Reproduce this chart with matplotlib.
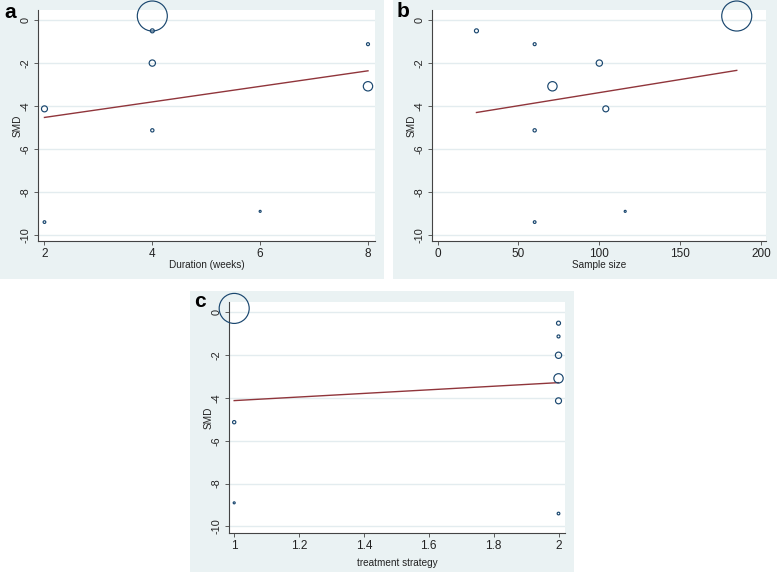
import matplotlib
matplotlib.use("Agg")
import matplotlib.pyplot as plt
from matplotlib.patches import Rectangle
import numpy as np

plt.rcParams['font.family'] = ['Liberation Sans', 'DejaVu Sans']

# ---- data ----
smd = [0.19, -0.50, -1.12, -2.00, -3.08, -4.13, -5.13, -9.40, -8.90]
duration_weeks = [4, 4, 8, 4, 8, 2, 4, 2, 6]
sample_size = [185, 24, 60, 100, 71, 104, 60, 60, 116]
treatment_strategy = [1, 2, 2, 2, 2, 2, 1, 2, 1]
study_weight = [100, 1.8, 1.0, 4.4, 9.7, 4.0, 1.2, 0.8, 0.45]

# fitted meta-regression values at the ends of each x range
fit_duration = [-4.53, -2.36]
fit_sample = [-4.30, -2.34]
fit_strategy = [-4.12, -3.28]

xticks_duration = [2, 4, 6, 8]
xticks_sample = [0, 50, 100, 150, 200]
xticks_strategy = [1, 1.2, 1.4, 1.6, 1.8, 2]
yticks_smd = [0, -2, -4, -6, -8, -10]

W, H = 777, 572
BG = '#eaf2f3'
NAVY = '#1a476f'
MAROON = '#90353b'
GRID = '#e3ecef'
SPINE = '#444444'

fig = plt.figure(figsize=(W / 100, H / 100), dpi=100)
fig.patch.set_facecolor('white')


def bg(l, t, r, b):
    fig.add_artist(Rectangle((l / W, 1 - b / H), (r - l) / W, (b - t) / H,
                             transform=fig.transFigure, facecolor=BG,
                             edgecolor='none', zorder=0))


def make_ax(l, t, r, b):
    return fig.add_axes([l / W, 1 - b / H, (r - l) / W, (b - t) / H])


def style(ax, x, xt, fit, xlim, ylim, xlabel, xlabelpad):
    ax.set_facecolor('white')
    for s in ['top', 'right']:
        ax.spines[s].set_visible(False)
    for s in ['left', 'bottom']:
        ax.spines[s].set_color(SPINE)
        ax.spines[s].set_linewidth(0.8)
    ax.set_xlim(*xlim)
    ax.set_ylim(*ylim)
    ax.set_yticks(yticks_smd)
    ax.set_yticklabels([str(v) for v in yticks_smd], rotation=90,
                       va='center', fontsize=7.8)
    ax.set_xticks(xt)
    ax.set_xticklabels([('%g' % v) for v in xt], fontsize=8.5)
    ax.tick_params(direction='out', length=3, width=0.6, color=SPINE,
                   labelcolor='#222222')
    ax.tick_params(axis='y', pad=2.3)
    ax.tick_params(axis='x', pad=2.3)
    ax.yaxis.grid(True, color=GRID, linewidth=1.0)
    ax.set_axisbelow(True)
    ax.set_ylabel('SMD', fontsize=7.2, color='#222222', labelpad=-1.5)
    ax.set_xlabel(xlabel, fontsize=7.2, color='#222222', labelpad=xlabelpad)
    sizes = np.array(study_weight) * 4.67
    ax.scatter(x, smd, s=sizes, facecolors='none', edgecolors=NAVY,
               linewidths=0.85, clip_on=False, zorder=3)
    xr = [min(x), max(x)]
    ax.plot(xr, fit, color=MAROON, linewidth=1.0, zorder=2)


# panel a
bg(0, 0, 384, 279)
axa = make_ax(38, 10, 375, 241)
style(axa, duration_weeks, xticks_duration, fit_duration, (1.88, 8.13),
      (-10.28, 0.47), 'Duration (weeks)', -0.3)

# panel b
bg(393, 0, 777, 279)
axb = make_ax(432, 10, 766, 241)
style(axb, sample_size, xticks_sample, fit_sample, (-3.5, 203.1),
      (-10.28, 0.47), 'Sample size', -0.3)

# panel c
bg(190, 291, 574, 572)
axc = make_ax(229, 302, 565, 533)
style(axc, treatment_strategy, xticks_strategy, fit_strategy, (0.984, 2.02),
      (-10.31, 0.49), 'treatment strategy', 4)

for lab, px, py in [('a', 4, 18), ('b', 397, 17), ('c', 194, 307)]:
    fig.text(px / W, 1 - py / H, lab, fontsize=15, fontweight='bold',
             va='baseline', ha='left')

fig.savefig('out.png', dpi=100)
